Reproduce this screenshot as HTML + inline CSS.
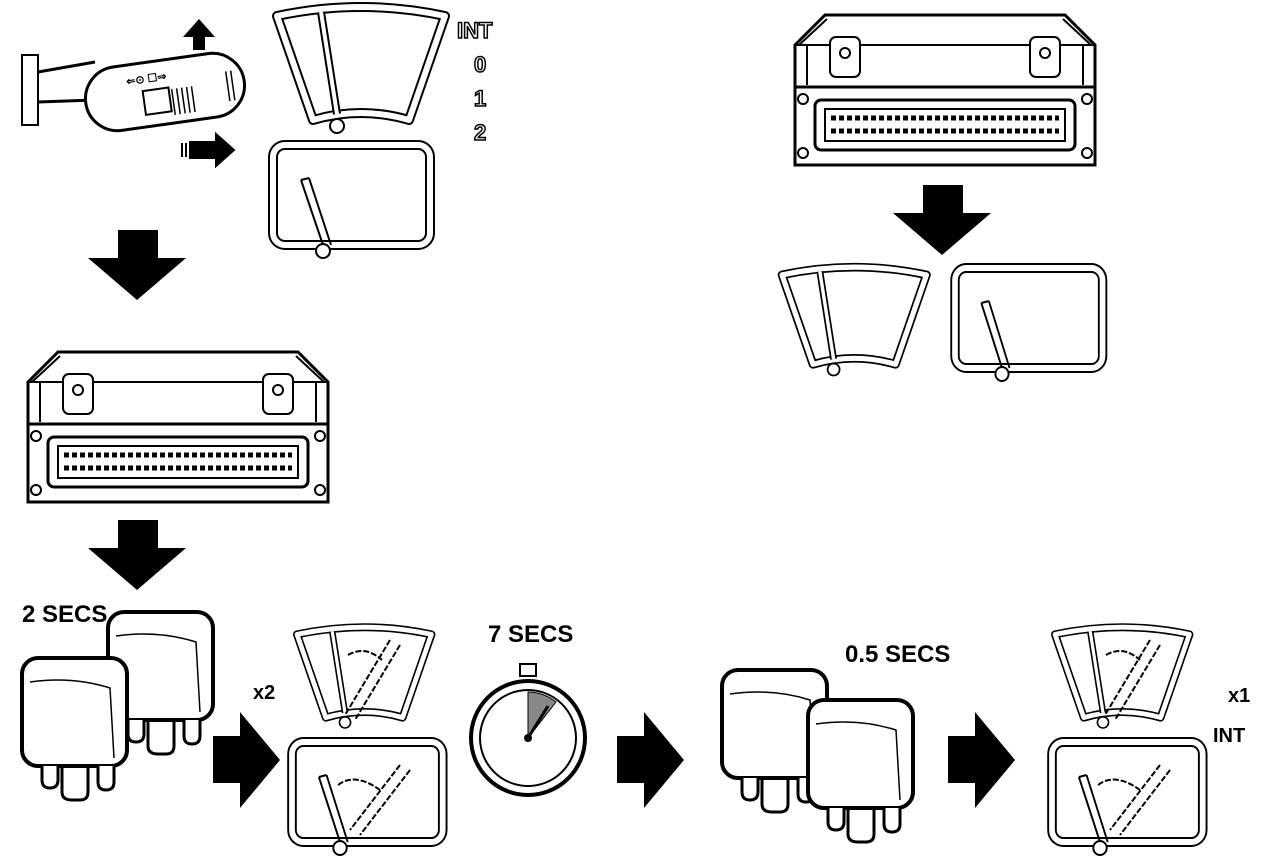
<!DOCTYPE html>
<html><head><meta charset="utf-8"><style>html,body{margin:0;padding:0;background:#fff}svg{display:block}</style></head><body>
<svg width="1280" height="866" viewBox="0 0 1280 866" xmlns="http://www.w3.org/2000/svg" font-family="Liberation Sans, sans-serif">
<defs>
<g id="fan">
<path d="M0,8 Q84,-10 168,8 L132,112 Q84,98 36,112 Z" fill="none" stroke="#000" stroke-width="10" stroke-linejoin="round"/>
<path d="M0,8 Q84,-10 168,8 L132,112 Q84,98 36,112 Z" fill="none" stroke="#fff" stroke-width="6" stroke-linejoin="round"/>
<path d="M44,4 L60,106" stroke="#000" stroke-width="8" fill="none"/>
<path d="M44,4 L60,106" stroke="#fff" stroke-width="4" fill="none"/>
<circle cx="60" cy="118" r="7" fill="#fff" stroke="#000" stroke-width="2"/>
</g>
<g id="scr">
<rect x="0" y="0" width="157" height="100" rx="12" fill="none" stroke="#000" stroke-width="10"/>
<rect x="0" y="0" width="157" height="100" rx="12" fill="none" stroke="#fff" stroke-width="6"/>
<circle cx="50" cy="106" r="7" fill="#fff" stroke="#000" stroke-width="2"/>
<path d="M28,35 L50,100" stroke="#000" stroke-width="2" fill="none"/>
<path d="M36,33 L58,100" stroke="#000" stroke-width="2" fill="none"/>
<path d="M28,35 L36,33" stroke="#000" stroke-width="2"/>
</g>
<g id="relay">
<rect x="0" y="0" width="105" height="108" rx="16" fill="#fff" stroke="#000" stroke-width="4"/>
<path d="M8,24 Q50,18 88,30 L92,100" fill="none" stroke="#000" stroke-width="1.5"/>
<path d="M20,108 v14 q0,8 8,8 q8,0 8,-8 v-14 M40,110 v24 q0,8 10,8 h8 q8,0 8,-8 v-24 M76,108 v16 q0,8 8,8 q8,0 8,-8 v-16" fill="#fff" stroke="#000" stroke-width="3"/>
</g>
<g id="ecu">
<path d="M10,30 L40,0 H280 L310,30 V150 H10 Z" fill="#fff" stroke="#000" stroke-width="3"/>
<path d="M14,30 L42,4 M306,30 L278,4 M10,30 H310 M22,30 V70 M298,30 V70" stroke="#000" stroke-width="2" fill="none"/>
<rect x="45" y="22" width="30" height="40" rx="6" fill="#fff" stroke="#000" stroke-width="2"/>
<rect x="245" y="22" width="30" height="40" rx="6" fill="#fff" stroke="#000" stroke-width="2"/>
<circle cx="60" cy="38" r="5" fill="none" stroke="#000" stroke-width="2"/><circle cx="260" cy="38" r="5" fill="none" stroke="#000" stroke-width="2"/>
<rect x="10" y="72" width="300" height="78" fill="#fff" stroke="#000" stroke-width="3"/>
<rect x="30" y="85" width="260" height="50" rx="6" fill="#fff" stroke="#000" stroke-width="3"/>
<rect x="40" y="94" width="240" height="32" fill="none" stroke="#000" stroke-width="2"/>
<path d="M46,103 h228 M46,116 h228" stroke="#000" stroke-width="5" stroke-dasharray="5 3"/>
<circle cx="18" cy="84" r="5" fill="none" stroke="#000" stroke-width="2"/><circle cx="302" cy="84" r="5" fill="none" stroke="#000" stroke-width="2"/>
<circle cx="18" cy="138" r="5" fill="none" stroke="#000" stroke-width="2"/><circle cx="302" cy="138" r="5" fill="none" stroke="#000" stroke-width="2"/>
</g>
<path id="ad" d="M30,0 H70 V28 H98 L49,70 L0,28 H30 Z" fill="#000"/>
<path id="ar" d="M0,24 H27 V0 L67,48 L27,96 V71 H0 Z" fill="#000"/>
</defs>

<!-- stalk -->
<rect x="22" y="55" width="16" height="70" fill="#fff" stroke="#000" stroke-width="2"/>
<path d="M38,72 L95,62 M38,102 L95,100" stroke="#000" stroke-width="3"/>
<g transform="rotate(-8 165 92)">
<rect x="85" y="60" width="160" height="64" rx="32" fill="#fff" stroke="#000" stroke-width="3"/>
<rect x="143" y="88" width="26" height="24" fill="#fff" stroke="#000" stroke-width="2"/>
<path d="M172,90 v26 M177,90 v26 M182,90 v26 M187,90 v26 M192,90 v26 M228,80 v30 M233,80 v30" stroke="#000" stroke-width="1.5"/>
<text x="128" y="80" font-size="11" font-weight="bold">⇐⊙ ☐⇒</text>
</g>
<path d="M193,50 h12 v-13 h10 l-16,-18 l-16,18 h10 z" fill="#000"/>
<path d="M190,142 h26 v-8 l18,16 l-18,16 v-8 h-26 z M186,143 v14 M182,143 v14" fill="#000" stroke="#000" stroke-width="2"/>

<use href="#fan" x="277" y="8"/>
<use href="#scr" x="273" y="145"/>
<g font-size="22" font-weight="bold" fill="#fff" stroke="#000" stroke-width="1.5">
<text x="457" y="38">INT</text><text x="474" y="72">0</text><text x="474" y="106">1</text><text x="474" y="140">2</text>
</g>

<use href="#ad" x="88" y="230"/>
<use href="#ecu" x="18" y="352"/>
<use href="#ad" x="88" y="520"/>

<use href="#ecu" x="785" y="15"/>
<use href="#ad" x="893" y="185"/>
<g transform="translate(782,268) scale(0.86)"><use href="#fan"/></g>
<g transform="translate(955,268) scale(0.94,1.0)"><use href="#scr"/></g>

<text x="22" y="622" font-size="24" font-weight="bold">2 SECS</text>
<use href="#relay" x="108" y="612"/>
<use href="#relay" x="22" y="658"/>
<text x="253" y="699" font-size="20" font-weight="bold">x2</text>
<use href="#ar" x="213" y="712"/>
<g transform="translate(297,628) scale(0.8)"><use href="#fan"/></g>
<path d="M348,655 Q365,645 382,660 M390,640 L345,715 M400,645 L355,720" stroke="#000" stroke-width="2" fill="none" stroke-dasharray="6 2"/>
<g transform="translate(292,742) scale(0.96,1.0)"><use href="#scr"/></g>
<path d="M338,785 Q355,772 380,790 M410,770 L360,835 M400,765 L350,830" stroke="#000" stroke-width="2" fill="none" stroke-dasharray="6 2"/>

<text x="488" y="642" font-size="24" font-weight="bold">7 SECS</text>
<rect x="520" y="664" width="16" height="12" fill="#fff" stroke="#000" stroke-width="2"/>
<circle cx="528" cy="738" r="57" fill="#fff" stroke="#000" stroke-width="4"/>
<circle cx="528" cy="738" r="48" fill="#fff" stroke="#000" stroke-width="2"/>
<path d="M528,738 L528,692 A46,46 0 0 1 556,702 Z" fill="#888" stroke="#000" stroke-width="1"/>
<path d="M528,738 L548,706" stroke="#000" stroke-width="3"/>
<circle cx="528" cy="738" r="4" fill="#000"/>
<use href="#ar" x="617" y="712"/>

<text x="845" y="662" font-size="24" font-weight="bold">0.5 SECS</text>
<use href="#relay" x="722" y="670"/>
<use href="#relay" x="808" y="700"/>
<use href="#ar" x="948" y="712"/>

<g transform="translate(1055,628) scale(0.8)"><use href="#fan"/></g>
<path d="M1106,655 Q1123,645 1140,660 M1150,640 L1105,715 M1160,645 L1115,720" stroke="#000" stroke-width="2" fill="none" stroke-dasharray="6 2"/>
<g transform="translate(1052,742) scale(0.96,1.0)"><use href="#scr"/></g>
<path d="M1098,785 Q1115,772 1140,790 M1170,770 L1120,835 M1160,765 L1110,830" stroke="#000" stroke-width="2" fill="none" stroke-dasharray="6 2"/>
<text x="1228" y="702" font-size="20" font-weight="bold">x1</text>
<text x="1213" y="742" font-size="20" font-weight="bold">INT</text>
</svg>
</body></html>
